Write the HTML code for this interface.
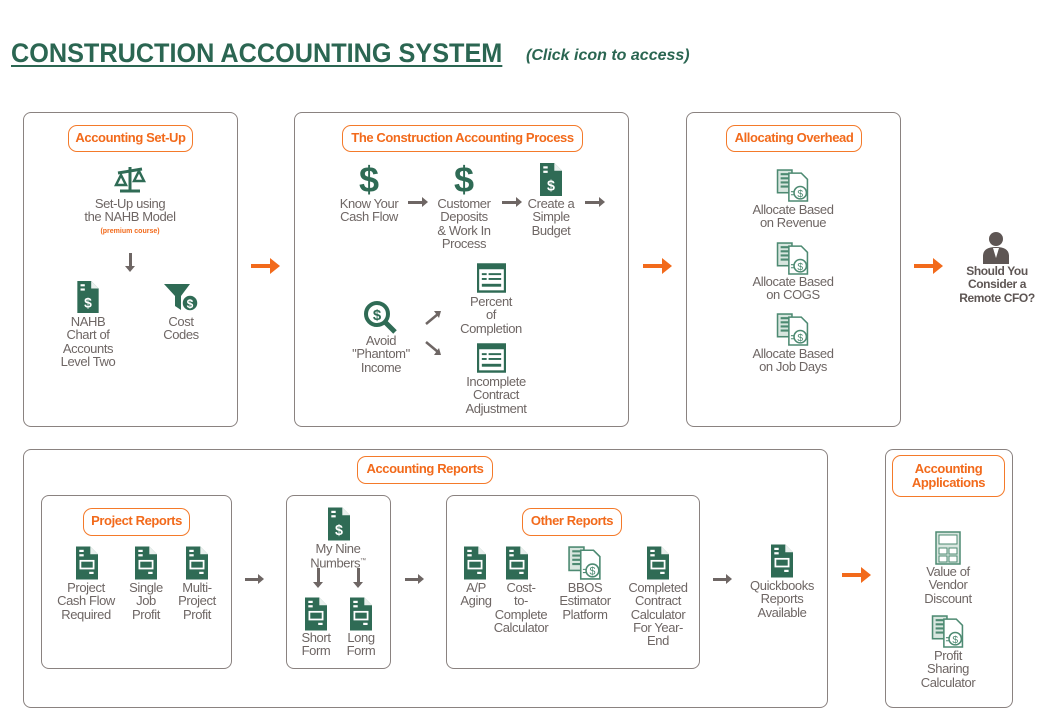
<!DOCTYPE html>
<html><head><meta charset="utf-8"><style>
*{margin:0;padding:0;box-sizing:border-box}
body{width:1052px;height:720px;background:#fff;position:relative;overflow:hidden;font-family:"Liberation Sans Narrow","Liberation Sans",sans-serif}
.box{position:absolute;border:1.5px solid #8a8280;border-radius:8px}
.pill{position:absolute;border:1.5px solid #f47a2a;border-radius:9px;color:#f26a1b;font:bold 13px/24px "Liberation Sans Narrow","Liberation Sans",sans-serif;letter-spacing:-0.4px;text-align:center;background:#fff;white-space:nowrap}
.t{position:absolute;width:120px;margin-left:-60px;text-align:center;color:#6e6664;font-size:13px;line-height:13.3px;letter-spacing:-0.4px;white-space:nowrap}
.ic{position:absolute}
.oa{position:absolute;height:4px;background:#f26a1b}
.oa:after{content:"";position:absolute;right:-9px;top:-6px;border-left:10px solid #f26a1b;border-top:8px solid transparent;border-bottom:8px solid transparent}
.ga{position:absolute;height:2.5px;background:#6e6664}
.ga:after{content:"";position:absolute;right:-5px;top:-4px;border-left:6px solid #6e6664;border-top:5px solid transparent;border-bottom:5px solid transparent}
.dl{position:absolute;width:2.5px;background:#6e6664}
.dl:after{content:"";position:absolute;bottom:-5px;left:-4px;border-top:6px solid #6e6664;border-left:5px solid transparent;border-right:5px solid transparent}
.d{position:absolute;color:#2f6b55;font:bold 36px/36px "Liberation Sans",sans-serif;width:40px;margin-left:-20px;text-align:center}
</style></head><body>
<svg width="0" height="0" style="position:absolute"><defs>
<symbol id="doc" viewBox="0 0 20 30"><path d="M0 0h13l7 7v23H0z" fill="#2f6b55"/><path d="M13 0v7h7" fill="#fff" opacity=".9"/><rect x="3" y="3" width="4" height="2" fill="#fff"/><rect x="3" y="7" width="4" height="2" fill="#fff"/><rect x="4" y="13" width="12" height="7" fill="none" stroke="#fff" stroke-width="1.6"/><rect x="12" y="23" width="4" height="2" fill="#fff"/></symbol>
<symbol id="docd" viewBox="0 0 20 30"><path d="M0 0h13l7 7v23H0z" fill="#2f6b55"/><path d="M13 0v7h7" fill="#fff" opacity=".9"/><rect x="3" y="3" width="4" height="2" fill="#fff"/><rect x="3" y="7" width="4" height="2" fill="#fff"/><text x="10" y="25" font-size="13" font-weight="bold" fill="#fff" text-anchor="middle" font-family="Liberation Sans">$</text></symbol>
<symbol id="calc" viewBox="0 0 30 30"><rect x="1" y="1" width="28" height="28" fill="#fff" stroke="#2f6b55" stroke-width="2.5"/><path d="M1 1h28v5H1z" fill="#2f6b55"/><rect x="5" y="10" width="5" height="2" fill="#2f6b55"/><rect x="12" y="10" width="13" height="2" fill="#2f6b55"/><rect x="5" y="15" width="5" height="2" fill="#2f6b55"/><rect x="12" y="15" width="13" height="2" fill="#2f6b55"/><rect x="5" y="21" width="20" height="3" fill="#2f6b55"/></symbol>
<symbol id="alloc" viewBox="0 0 32 32"><rect x="1" y="1" width="14" height="22" fill="#d8e6df" stroke="#4d8a72" stroke-width="1.5"/><path d="M4 5h8M4 9h8M4 13h8M4 17h8" stroke="#4d8a72" stroke-width="2"/><path d="M12 4h12l6 6v21H12z" fill="#fff" stroke="#4d8a72" stroke-width="1.5"/><circle cx="23" cy="23" r="6" fill="#fff" stroke="#4d8a72" stroke-width="1.5"/><text x="23" y="27" font-size="10" fill="#4d8a72" text-anchor="middle" font-family="Liberation Sans">$</text><path d="M14 22h3M14 25h3" stroke="#4d8a72"/></symbol>
</defs></svg>

<div style="position:absolute;left:11px;top:37px;font:bold 27px/32px 'Liberation Sans Narrow','Liberation Sans',sans-serif;color:#2b6652;text-decoration:underline;text-decoration-thickness:2px;text-underline-offset:3px;white-space:nowrap;transform:scaleX(0.935);transform-origin:0 0">CONSTRUCTION ACCOUNTING SYSTEM</div>
<div style="position:absolute;left:526px;top:46px;font:italic bold 16px/20px 'Liberation Sans Narrow','Liberation Sans',sans-serif;color:#2b6652;white-space:nowrap">(Click icon to access)</div>

<!-- boxes -->
<div class="box" style="left:23px;top:112px;width:215px;height:315px"></div>
<div class="box" style="left:294px;top:112px;width:335px;height:315px"></div>
<div class="box" style="left:686px;top:112px;width:215px;height:315px"></div>
<div class="box" style="left:23px;top:449px;width:805px;height:259px"></div>
<div class="box" style="left:41px;top:495px;width:191px;height:174px"></div>
<div class="box" style="left:286px;top:495px;width:105px;height:174px"></div>
<div class="box" style="left:446px;top:495px;width:254px;height:174px"></div>
<div class="box" style="left:885px;top:449px;width:128px;height:259px"></div>

<div class="pill" style="left:68px;top:125px;width:125px;height:27px">Accounting Set-Up</div>
<div class="pill" style="left:342px;top:125px;width:241px;height:27px">The Construction Accounting Process</div>
<div class="pill" style="left:726px;top:125px;width:136px;height:27px">Allocating Overhead</div>
<div class="pill" style="left:357px;top:456px;width:136px;height:28px">Accounting Reports</div>
<div class="pill" style="left:83px;top:508px;width:107px;height:28px">Project Reports</div>
<div class="pill" style="left:522px;top:508px;width:100px;height:28px">Other Reports</div>
<div class="pill" style="left:892px;top:455px;width:113px;height:42px;line-height:14px;padding-top:6px">Accounting<br>Applications</div>

<!-- setup -->
<svg class="ic" style="left:114px;top:165px" width="32" height="28" viewBox="0 0 32 28"><path d="M16 2v24M6 26h20M4 8l24-4" stroke="#2f6b55" stroke-width="3" fill="none"/><path d="M2 20l5-10 5 10z M20 16l5-10 5 10z" fill="none" stroke="#2f6b55" stroke-width="2.5"/></svg>
<div class="t" style="left:130px;top:197px">Set-Up using<br>the NAHB Model</div>
<div class="t" style="left:130px;top:228px;font:bold 7px/8px 'Liberation Sans',sans-serif;color:#f26a1b;letter-spacing:0">(premium course)</div>
<div class="dl" style="left:129px;top:253px;height:14px"></div>
<svg class="ic" style="left:77px;top:281px" width="22" height="32"><use href="#docd"/></svg>
<div class="t" style="left:88px;top:315px">NAHB<br>Chart of<br>Accounts<br>Level Two</div>
<svg class="ic" style="left:164px;top:284px" width="34" height="28" viewBox="0 0 34 28"><path d="M0 0h26l-9 12v14l-6-4V12z" fill="#2f6b55"/><circle cx="26" cy="19" r="8" fill="#2f6b55" stroke="#fff" stroke-width="1.5"/><text x="26" y="24" font-size="12" font-weight="bold" fill="#fff" text-anchor="middle" font-family="Liberation Sans">$</text></svg>
<div class="t" style="left:181px;top:315px">Cost<br>Codes</div>

<div class="oa" style="left:251px;top:264px;width:20px"></div>

<!-- process -->
<div class="d" style="left:369px;top:162px">$</div>
<div class="t" style="left:369px;top:197px">Know Your<br>Cash Flow</div>
<div class="ga" style="left:408px;top:201px;width:15px"></div>
<div class="d" style="left:464px;top:162px">$</div>
<div class="t" style="left:464px;top:197px">Customer<br>Deposits<br>&amp; Work In<br>Process</div>
<div class="ga" style="left:502px;top:201px;width:15px"></div>
<svg class="ic" style="left:540px;top:163px" width="22" height="33"><use href="#docd"/></svg>
<div class="t" style="left:551px;top:197px">Create a<br>Simple<br>Budget</div>
<div class="ga" style="left:585px;top:201px;width:15px"></div>
<svg class="ic" style="left:363px;top:300px" width="36" height="34" viewBox="0 0 36 34"><circle cx="14" cy="14" r="11" fill="none" stroke="#2f6b55" stroke-width="4"/><text x="14" y="20" font-size="15" font-weight="bold" fill="#2f6b55" text-anchor="middle" font-family="Liberation Sans">$</text><path d="M22 22l10 10" stroke="#2f6b55" stroke-width="5"/></svg>
<div class="t" style="left:381px;top:334px">Avoid<br>"Phantom"<br>Income</div>
<svg class="ic" style="left:424px;top:308px" width="20" height="50" viewBox="0 0 20 50"><path d="M2 16L14 6" stroke="#6e6664" stroke-width="2.5"/><path d="M10 3l7 0-2 7z" fill="#6e6664"/><path d="M2 34l12 10" stroke="#6e6664" stroke-width="2.5"/><path d="M10 47l7 0-2-7z" fill="#6e6664"/></svg>
<svg class="ic" style="left:477px;top:263px" width="29" height="30"><use href="#calc"/></svg>
<div class="t" style="left:491px;top:295px">Percent<br>of<br>Completion</div>
<svg class="ic" style="left:477px;top:343px" width="29" height="30"><use href="#calc"/></svg>
<div class="t" style="left:496px;top:375px">Incomplete<br>Contract<br>Adjustment</div>

<div class="oa" style="left:643px;top:264px;width:20px"></div>

<!-- overhead -->
<svg class="ic" style="left:776px;top:169px" width="34" height="33"><use href="#alloc"/></svg>
<div class="t" style="left:793px;top:203px">Allocate Based<br>on Revenue</div>
<svg class="ic" style="left:776px;top:242px" width="34" height="33"><use href="#alloc"/></svg>
<div class="t" style="left:793px;top:275px">Allocate Based<br>on COGS</div>
<svg class="ic" style="left:776px;top:313px" width="34" height="33"><use href="#alloc"/></svg>
<div class="t" style="left:793px;top:347px">Allocate Based<br>on Job Days</div>

<div class="oa" style="left:914px;top:264px;width:20px"></div>
<svg class="ic" style="left:982px;top:231px" width="28" height="33" viewBox="0 0 28 33"><circle cx="14" cy="8" r="7" fill="#5e5654"/><path d="M1 33v-8q0-9 13-9t13 9v8z" fill="#5e5654"/><path d="M11 17l3 10 3-10z" fill="#fff"/></svg>
<div class="t" style="left:997px;top:265px;font-weight:bold;color:#5e5654;font-family:'Liberation Sans',sans-serif;font-size:12px">Should You<br>Consider a<br>Remote CFO?</div>

<!-- reports -->
<svg class="ic" style="left:76px;top:546px" width="22" height="34"><use href="#doc"/></svg>
<div class="t" style="left:86px;top:581px">Project<br>Cash Flow<br>Required</div>
<svg class="ic" style="left:135px;top:546px" width="22" height="34"><use href="#doc"/></svg>
<div class="t" style="left:146px;top:581px">Single<br>Job<br>Profit</div>
<svg class="ic" style="left:186px;top:546px" width="22" height="34"><use href="#doc"/></svg>
<div class="t" style="left:197px;top:581px">Multi-<br>Project<br>Profit</div>
<div class="ga" style="left:245px;top:578px;width:14px"></div>

<svg class="ic" style="left:328px;top:507px" width="22" height="34"><use href="#docd"/></svg>
<div class="t" style="left:338px;top:542px">My Nine<br>Numbers<sup style="font-size:6px">™</sup></div>
<div class="dl" style="left:317px;top:568px;height:15px"></div>
<div class="dl" style="left:357px;top:568px;height:15px"></div>
<svg class="ic" style="left:305px;top:597px" width="22" height="34"><use href="#doc"/></svg>
<div class="t" style="left:316px;top:631px">Short<br>Form</div>
<svg class="ic" style="left:350px;top:597px" width="22" height="34"><use href="#doc"/></svg>
<div class="t" style="left:361px;top:631px">Long<br>Form</div>
<div class="ga" style="left:405px;top:578px;width:14px"></div>

<svg class="ic" style="left:464px;top:546px" width="22" height="34"><use href="#doc"/></svg>
<div class="t" style="left:476px;top:581px">A/P<br>Aging</div>
<svg class="ic" style="left:506px;top:546px" width="22" height="34"><use href="#doc"/></svg>
<div class="t" style="left:521px;top:581px">Cost-<br>to-<br>Complete<br>Calculator</div>
<svg class="ic" style="left:568px;top:546px" width="34" height="34"><use href="#alloc"/></svg>
<div class="t" style="left:585px;top:581px">BBOS<br>Estimator<br>Platform</div>
<svg class="ic" style="left:647px;top:546px" width="22" height="34"><use href="#doc"/></svg>
<div class="t" style="left:658px;top:581px">Completed<br>Contract<br>Calculator<br>For Year-<br>End</div>
<div class="ga" style="left:713px;top:578px;width:14px"></div>
<svg class="ic" style="left:771px;top:544px" width="22" height="34"><use href="#doc"/></svg>
<div class="t" style="left:782px;top:579px">Quickbooks<br>Reports<br>Available</div>

<div class="oa" style="left:842px;top:573px;width:20px"></div>

<svg class="ic" style="left:935px;top:531px" width="26" height="34" viewBox="0 0 26 34"><rect x="1" y="1" width="24" height="32" fill="#d8e6df" stroke="#4d8a72" stroke-width="1.5"/><rect x="4" y="4" width="18" height="9" fill="#fff" stroke="#4d8a72"/><path d="M4 17h8v6H4zM14 17h8v6h-8zM4 25h8v6H4zM14 25h8v6h-8z" fill="#fff" stroke="#4d8a72"/></svg>
<div class="t" style="left:948px;top:565px">Value of<br>Vendor<br>Discount</div>
<svg class="ic" style="left:931px;top:615px" width="34" height="33"><use href="#alloc"/></svg>
<div class="t" style="left:948px;top:649px">Profit<br>Sharing<br>Calculator</div>
</body></html>
